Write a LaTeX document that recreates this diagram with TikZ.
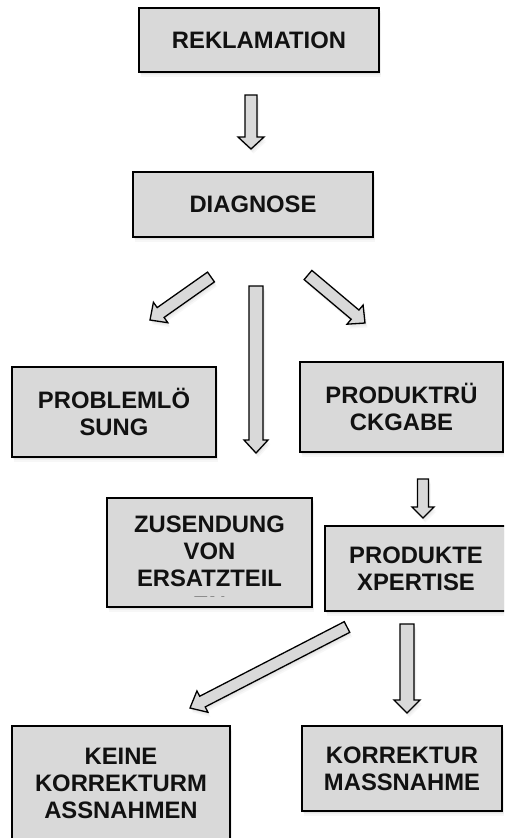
\documentclass[tikz,border=0pt]{standalone}
\usepackage{fontspec}
\setmainfont{Liberation Sans}
\usetikzlibrary{calc,shadows}
\definecolor{boxfill}{HTML}{D9D9D9}
\definecolor{txt}{HTML}{111111}
\tikzset{
  softshadow/.style={
    drop shadow={opacity=0.10,shadow xshift=0.8pt,shadow yshift=-1.5pt},
    drop shadow={opacity=0.08,shadow xshift=1.6pt,shadow yshift=-3pt},
    drop shadow={opacity=0.06,shadow xshift=2.4pt,shadow yshift=-4.5pt}},
  boxtext/.style={align=center, font=\bfseries\fontsize{23.8}{27}\selectfont, text=txt, inner sep=0pt},
  box/.style={boxtext, draw=black, line width=1.8pt, fill=boxfill, softshadow},
  arrowbody/.style={draw=black, line width=1.3pt, fill=boxfill, line join=miter, softshadow}
}
% #1 tail, #2 tip, #3 half shaft width, #4 half head width, #5 head length
\newcommand{\blockarrow}[5]{%
  \coordinate (#2-hb) at ($(#2)!#5!(#1)$);
  \filldraw[arrowbody] ($(#1)!#3!90:(#2)$) -- ($(#2-hb)!#3!90:(#2)$) -- ($(#2-hb)!#4!90:(#2)$)
    -- (#2) -- ($(#2-hb)!#4!-90:(#2)$) -- ($(#2-hb)!#3!-90:(#2)$) -- ($(#1)!#3!-90:(#2)$) -- cycle;
}
\begin{document}
\begin{tikzpicture}[x=1pt,y=-1pt]
\useasboundingbox (0,0) rectangle (504,838);
\clip (0,0) rectangle (504,838);
\fill[white] (0,0) rectangle (504,838);

% boxes
\node[box, minimum width=240pt, minimum height=64pt] (rek) at (259,40) {REKLAMATION};
\node[box, minimum width=240pt, minimum height=65pt] (dia) at (253,204.5) {DIAGNOSE};
\node[box, minimum width=204pt, minimum height=90pt] (pro) at (114,412) {PROBLEMLÖ\\SUNG};
\node[box, minimum width=203pt, minimum height=90pt] (rue) at (401.5,407) {PRODUKTRÜ\\CKGABE};
\node[box, minimum width=205pt, minimum height=109pt] (zus) at (209.5,552.5) {};
\begin{scope}
  \clip (107,499) rectangle (312,596.5);
  \node[boxtext] (zust) at (209.5,565) {ZUSENDUNG\\VON\\ERSATZTEIL\\EN};
\end{scope}
\node[box, minimum width=182pt, minimum height=85pt] (exp) at (416,568.5) {PRODUKTE\\XPERTISE};
\node[box, minimum width=218pt, minimum height=115pt] (kei) at (121,783.5) {KEINE\\KORREKTURM\\ASSNAHMEN};
\node[box, minimum width=200pt, minimum height=85pt] (kor) at (402,768.5) {KORREKTUR\\MASSNAHME};

% arrow end points
\coordinate (a1t) at (251,95);   \coordinate (a1h) at (251,149);
\coordinate (a2t) at (211,277);  \coordinate (a2h) at (150,320);
\coordinate (a3t) at (308,275);  \coordinate (a3h) at (365,323);
\coordinate (a4t) at (256,286);  \coordinate (a4h) at (256,453);
\coordinate (a5t) at (423,479);  \coordinate (a5h) at (423,518);
\coordinate (a6t) at (347,627);  \coordinate (a6h) at (190,708);
\coordinate (a7t) at (407,624);  \coordinate (a7h) at (407,713);

\blockarrow{a1t}{a1h}{6pt}{13pt}{12pt}
\blockarrow{a2t}{a2h}{6pt}{12.5pt}{13pt}
\blockarrow{a3t}{a3h}{6pt}{12.5pt}{13pt}
\blockarrow{a4t}{a4h}{7pt}{12pt}{13pt}
\blockarrow{a5t}{a5h}{5.5pt}{11pt}{11pt}
\blockarrow{a6t}{a6h}{6pt}{12pt}{14pt}
\blockarrow{a7t}{a7h}{7pt}{13pt}{13pt}
\end{tikzpicture}
\end{document}
